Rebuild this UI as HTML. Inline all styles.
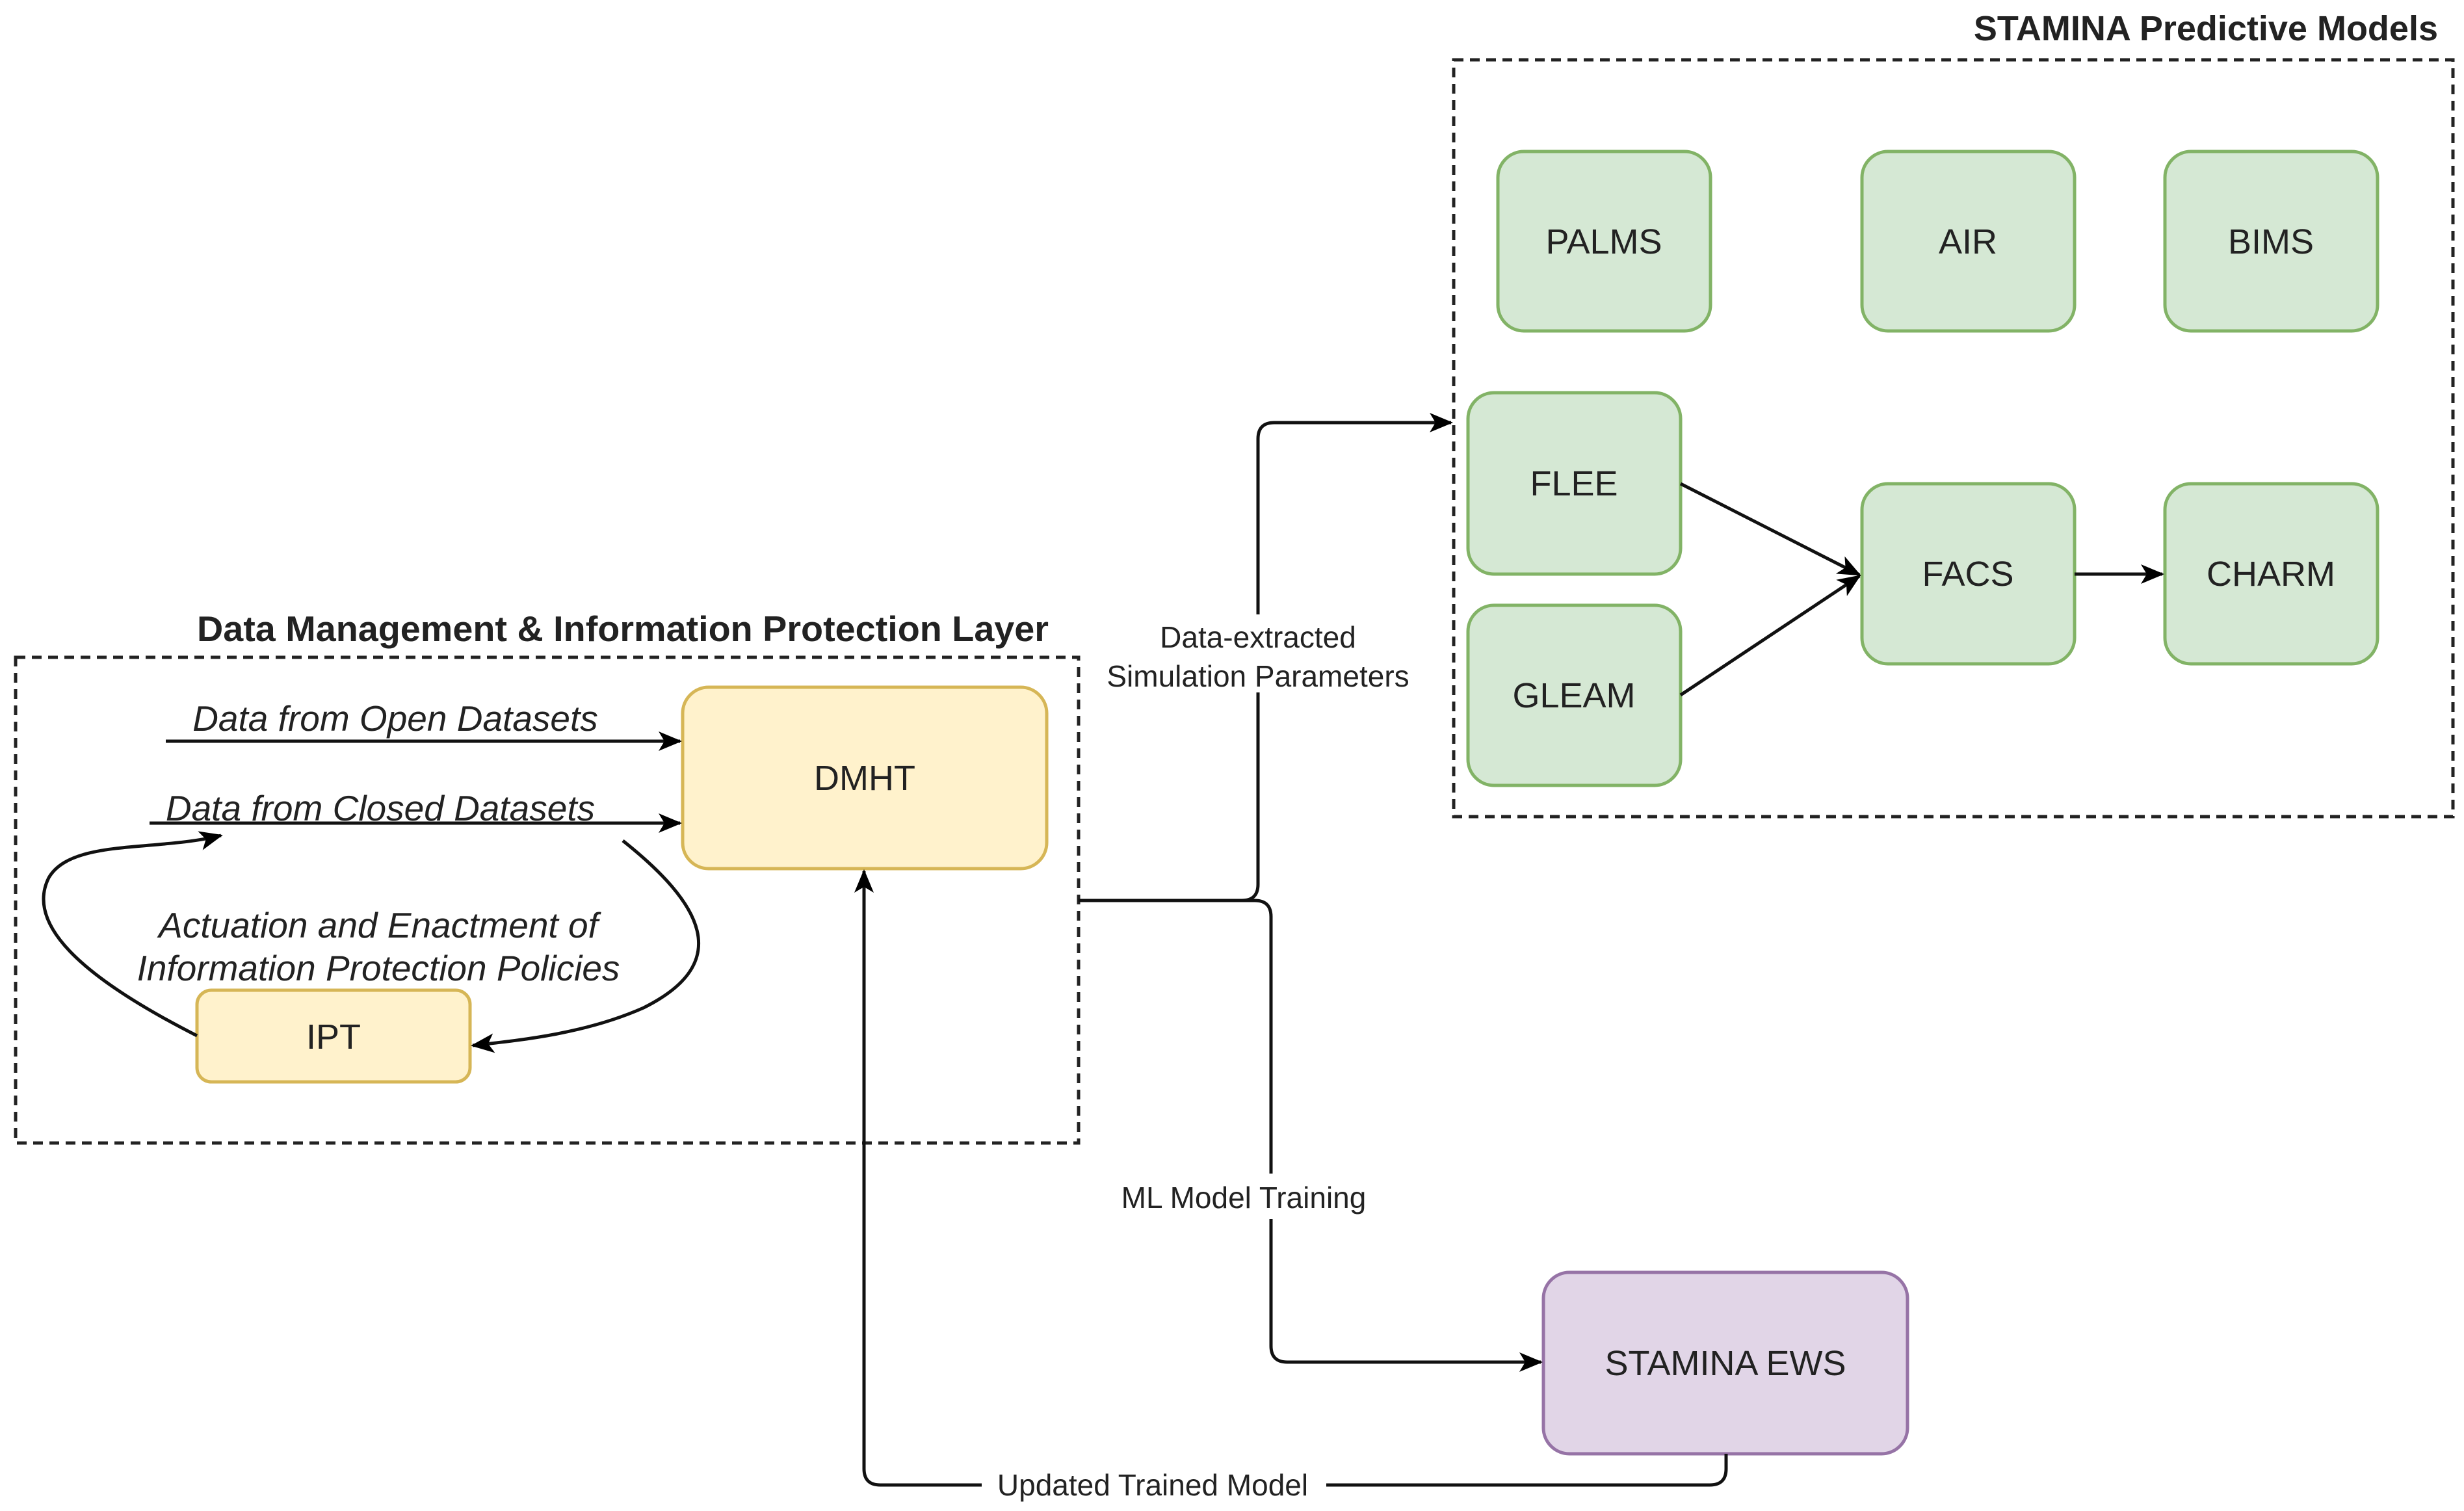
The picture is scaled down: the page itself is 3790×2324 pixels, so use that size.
<!DOCTYPE html>
<html><head><meta charset="utf-8"><style>
html,body{margin:0;padding:0;background:#fff;}
svg{display:block;}
text{font-family:"Liberation Sans",sans-serif;fill:#222;}
</style></head><body>
<svg width="3790" height="2324" viewBox="0 0 3790 2324" xmlns="http://www.w3.org/2000/svg">
<defs>
<marker id="ar" viewBox="0 0 12 10" refX="11" refY="5" markerWidth="36" markerHeight="30" markerUnits="userSpaceOnUse" orient="auto">
<path d="M0,0 L12,5 L0,10 L3,5 Z" fill="#000"/>
</marker>
</defs>
<rect x="24" y="1011" width="1635" height="747" fill="none" stroke="#222" stroke-width="5" stroke-dasharray="15,10"/>
<rect x="2236" y="92" width="1537" height="1164" fill="none" stroke="#222" stroke-width="5" stroke-dasharray="15,10"/>
<text x="1613" y="986" font-size="55" font-weight="bold" text-anchor="end" textLength="1310" lengthAdjust="spacingAndGlyphs">Data Management &amp; Information Protection Layer</text>
<text x="3750" y="62" font-size="54" font-weight="bold" text-anchor="end">STAMINA Predictive Models</text>

<g fill="#d5e8d4" stroke="#82b366" stroke-width="5">
<rect x="2304" y="233" width="327" height="276" rx="40"/>
<rect x="2864" y="233" width="327" height="276" rx="40"/>
<rect x="3330" y="233" width="327" height="276" rx="40"/>
<rect x="2258" y="604" width="327" height="279" rx="40"/>
<rect x="2258" y="931" width="327" height="277" rx="40"/>
<rect x="2864" y="744" width="327" height="277" rx="40"/>
<rect x="3330" y="744" width="327" height="277" rx="40"/>
</g>
<g font-size="54" text-anchor="middle">
<text x="2467" y="390">PALMS</text>
<text x="3027" y="390">AIR</text>
<text x="3493" y="390">BIMS</text>
<text x="2421" y="762">FLEE</text>
<text x="2421" y="1088">GLEAM</text>
<text x="3027" y="901">FACS</text>
<text x="3493" y="901">CHARM</text>
</g>
<rect x="1050" y="1057" width="560" height="279" rx="40" fill="#fff2cc" stroke="#d6b656" stroke-width="5"/>
<rect x="303" y="1523" width="420" height="141" rx="22" fill="#fff2cc" stroke="#d6b656" stroke-width="5"/>
<text x="1330" y="1215" font-size="54" text-anchor="middle">DMHT</text>
<text x="513" y="1613" font-size="54" text-anchor="middle">IPT</text>
<rect x="2374" y="1957" width="560" height="279" rx="40" fill="#e1d5e7" stroke="#9673a6" stroke-width="5"/>
<text x="2654" y="2115" font-size="54" text-anchor="middle">STAMINA EWS</text>

<g fill="none" stroke="#111" stroke-width="5">
<line x1="2585" y1="744" x2="2860" y2="884" marker-end="url(#ar)"/>
<line x1="2585" y1="1069" x2="2860" y2="886" marker-end="url(#ar)"/>
<line x1="3191" y1="883" x2="3326" y2="883" marker-end="url(#ar)"/>
<line x1="255" y1="1140" x2="1046" y2="1140" marker-end="url(#ar)"/>
<line x1="230" y1="1266" x2="1046" y2="1266" marker-end="url(#ar)"/>
<path d="M303,1593 C120,1500 40,1420 75,1350 C110,1290 240,1310 340,1285" marker-end="url(#ar)"/>
<path d="M958,1293 C1080,1390 1130,1480 990,1550 C900,1590 800,1600 727,1608" marker-end="url(#ar)"/>
<path d="M1659,1385 L1910,1385 Q1935,1385 1935,1360 L1935,675 Q1935,650 1960,650 L2232,650" marker-end="url(#ar)"/>
<path d="M1659,1385 L1930,1385 Q1955,1385 1955,1410 L1955,2070 Q1955,2095 1980,2095 L2370,2095" marker-end="url(#ar)"/>
<path d="M2655,2236 L2655,2259 Q2655,2284 2630,2284 L1354,2284 Q1329,2284 1329,2259 L1329,1340" marker-end="url(#ar)"/>
</g>

<g font-size="55" font-style="italic" text-anchor="middle">
<text x="608" y="1124">Data from Open Datasets</text>
<text x="585" y="1262">Data from Closed Datasets</text>
<text x="582" y="1442">Actuation and Enactment of</text>
<text x="582" y="1508">Information Protection Policies</text>
</g>
<g font-size="46" text-anchor="middle">
<rect x="1680" y="945" width="510" height="120" fill="#fff"/>
<text x="1935" y="996">Data-extracted</text>
<text x="1935" y="1056">Simulation Parameters</text>
<rect x="1700" y="1805" width="430" height="70" fill="#fff"/>
<text x="1913" y="1858">ML Model Training</text>
<rect x="1510" y="2255" width="530" height="60" fill="#fff"/>
<text x="1773" y="2300">Updated Trained Model</text>
</g>
</svg>
</body></html>
